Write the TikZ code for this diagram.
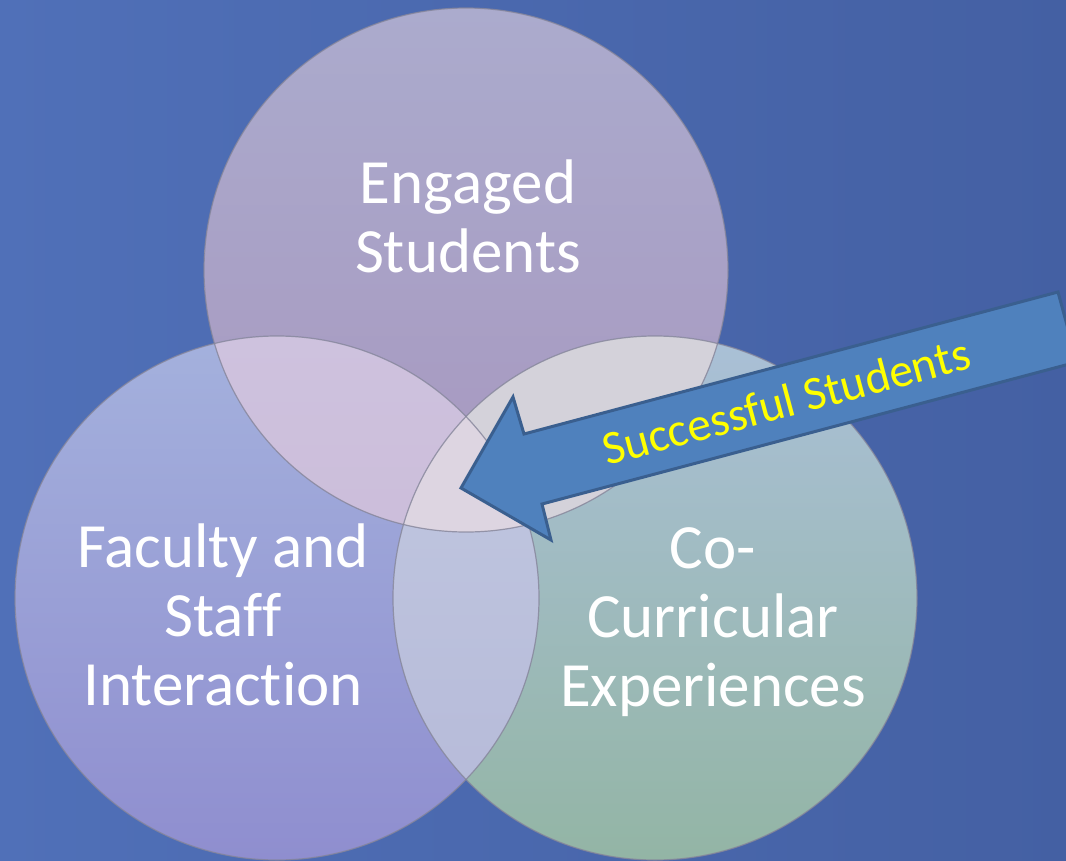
\documentclass[tikz,border=0pt]{standalone}
\usepackage{fontspec}
\setmainfont{Carlito}[Ligatures=NoCommon]
\definecolor{bgL}{HTML}{5070B8}
\definecolor{bgR}{HTML}{4460A3}
\definecolor{topA}{HTML}{ABABCD}
\definecolor{topB}{HTML}{A797BF}
\definecolor{leftA}{HTML}{A4B1DD}
\definecolor{leftB}{HTML}{8F8ECF}
\definecolor{rightA}{HTML}{AAC0D7}
\definecolor{rightB}{HTML}{93B5A5}
\definecolor{tlA}{HTML}{CEC2DE}
\definecolor{tlB}{HTML}{C8B6D4}
\definecolor{trc}{HTML}{D4D2DA}
\definecolor{lrA}{HTML}{C2C9E1}
\definecolor{lrB}{HTML}{B5B9D8}
\definecolor{ctr}{HTML}{DDD5E1}
\definecolor{arrowfill}{HTML}{4F81BD}
\definecolor{arrowline}{HTML}{3A5F8F}
\definecolor{ring}{HTML}{85859A}
\definecolor{txtyellow}{HTML}{FFFF00}
\begin{document}
\begin{tikzpicture}[x=1pt,y=-1pt,
  lbl/.style={text=white,font=\fontsize{63}{69}\selectfont,align=center,inner sep=0pt},
  ringline/.style={draw=ring,line width=1.2pt,draw opacity=0.8},
  arrowbody/.style={fill=arrowfill,draw=arrowline,line width=3pt,line join=miter},
  arrowtext/.style={text=txtyellow,font=\fontsize{47.5}{52}\selectfont,inner sep=0pt}]
\useasboundingbox (0,0) rectangle (1066,860);
\clip (0,0) rectangle (1066,860);
% background
\shade[left color=bgL,right color=bgR] (0,0) rectangle (1066,860);
% circle centres
\coordinate (T) at (466,270);
\coordinate (L) at (277,598);
\coordinate (R) at (655,598);
\def\rr{262}
% single circles
\shade[top color=topA,bottom color=topB] (T) circle[radius=\rr];
\shade[top color=leftA,bottom color=leftB] (L) circle[radius=\rr];
\shade[top color=rightA,bottom color=rightB] (R) circle[radius=\rr];
% overlaps
\begin{scope}
  \clip (T) circle[radius=\rr];
  \shade[top color=tlA,bottom color=tlB] (L) circle[radius=\rr];
\end{scope}
\begin{scope}
  \clip (T) circle[radius=\rr];
  \fill[trc] (R) circle[radius=\rr];
\end{scope}
\begin{scope}
  \clip (L) circle[radius=\rr];
  \shade[top color=lrA,bottom color=lrB] (R) circle[radius=\rr];
\end{scope}
\begin{scope}
  \clip (T) circle[radius=\rr];
  \clip (L) circle[radius=\rr];
  \fill[ctr] (R) circle[radius=\rr];
\end{scope}
% outlines
\draw[ringline] (T) circle[radius=\rr];
\draw[ringline] (L) circle[radius=\rr];
\draw[ringline] (R) circle[radius=\rr];
% labels
\node[lbl] (engaged) at (468,216) {Engaged\\Students};
\node[lbl] (faculty) at (223,615) {Faculty and\\Staff\\Interaction};
\node[lbl] (cocurr) at (713,622) {Co-\\Curricular\\Experiences};
% arrow
\coordinate (tip) at (461,488);
\coordinate (b1) at (513,397);
\coordinate (i1) at (524,434);
\coordinate (e1) at (1058,292);
\coordinate (e2) at (1077,362);
\coordinate (i2) at (542,504);
\coordinate (b2) at (551,540);
\draw[arrowbody] (tip) -- (b1) -- (i1) -- (e1) -- (e2) -- (i2) -- (b2) -- cycle;
\node[arrowtext,rotate=15] (succ) at (786,401) {Successful Students};
\end{tikzpicture}
\end{document}
